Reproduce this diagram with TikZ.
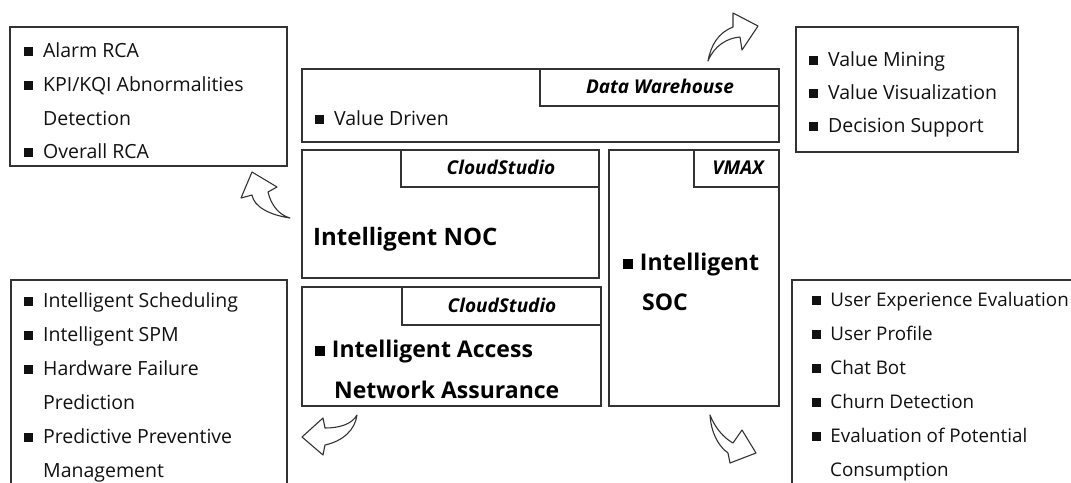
\documentclass[tikz,border=0pt]{standalone}
\usepackage{fontspec}
\setmainfont{Open Sans}
\begin{document}
\definecolor{ln}{HTML}{333333}
\definecolor{tx}{HTML}{111111}
\tikzset{
 box/.style={draw=ln, line width=1.3pt, fill=white, anchor=north west, inner sep=0pt, outer sep=0pt},
 txt/.style={anchor=base west, inner sep=0pt, text=tx, font=\fontsize{19.5}{19.5}\selectfont},
 stxt/.style={anchor=base west, inner sep=0pt, text=tx, font=\fontsize{18.8}{18.8}\selectfont},
 btxt/.style={anchor=base west, inner sep=0pt, text=black, font=\fontsize{23}{23}\selectfont\bfseries},
 tabtxt/.style={anchor=base, inner sep=0pt, text=black, font=\fontsize{19}{19}\selectfont\bfseries\itshape},
 carrow/.style={draw=ln, line width=1.1pt, fill=white, line join=round},
}
\newcommand{\bsq}{\rule[0.06em]{0.47em}{0.47em}\hspace{0.5em}}
\newcommand{\bbsq}{\rule[0.04em]{0.43em}{0.43em}\hspace{0.3em}}
\begin{tikzpicture}[x=1pt,y=-1pt]
\useasboundingbox (0,0) rectangle (1071,482);
\clip (0,0) rectangle (1071,482);
% boxes
\node[box, minimum width=277pt, minimum height=139pt] (rca) at (10,27) {};
\node[box, minimum width=477pt, minimum height=73pt] (dw) at (302,69) {};
\node[box, minimum width=239pt, minimum height=37pt] (dwt) at (540,69) {};
\node[box, minimum width=222pt, minimum height=125pt] (vm) at (796,27) {};
\node[box, minimum width=297pt, minimum height=128pt] (noc) at (302,150) {};
\node[box, minimum width=198pt, minimum height=37pt] (noct) at (401,150) {};
\node[box, minimum width=170pt, minimum height=256pt] (soc) at (609,150) {};
\node[box, minimum width=85pt, minimum height=37pt] (soct) at (694,150) {};
\node[box, minimum width=299pt, minimum height=119pt] (ana) at (302,287) {};
\node[box, minimum width=199pt, minimum height=38pt] (anat) at (402,287) {};
\node[box, minimum width=276pt, minimum height=220pt] (sch) at (11,280) {};
\node[box, minimum width=298pt, minimum height=220pt] (uxe) at (792,280) {};
% tab labels
\node[tabtxt] (dwl) at (660,93) {Data Warehouse};
\node[tabtxt] (nocl) at (501,174) {CloudStudio};
\node[tabtxt] (socl) at (738,174) {VMAX};
\node[tabtxt] (anal) at (502,312) {CloudStudio};
% top-left list
\node[txt] (r1) at (24,57) {\bsq Alarm RCA};
\node[txt] (r2) at (24,91) {\bsq KPI/KQI Abnormalities};
\node[txt] (r3) at (43,125) {Detection};
\node[txt] (r4) at (24,158) {\bsq Overall RCA};
% data warehouse
\node[txt] (dv) at (315,125) {\bsq Value Driven};
% top-right list
\node[txt] (v1) at (809,66) {\bsq Value Mining};
\node[txt] (v2) at (809,99) {\bsq Value Visualization};
\node[txt] (v3) at (809,132) {\bsq Decision Support};
% NOC
\node[btxt, font=\fontsize{24}{24}\selectfont\bfseries] (nocx) at (313,245) {Intelligent NOC};
% SOC
\node[btxt] (soc1) at (623,270) {\bbsq Intelligent};
\node[btxt] (soc2) at (642,310) {SOC};
% access network
\node[btxt] (an1) at (315,357) {\bbsq Intelligent Access};
\node[btxt] (an2) at (334,398) {Network Assurance};
% bottom-left list
\node[txt] (s1) at (24,307) {\bsq Intelligent Scheduling};
\node[txt] (s2) at (24,341) {\bsq Intelligent SPM};
\node[txt] (s3) at (24,375) {\bsq Hardware Failure};
\node[txt] (s4) at (43,409) {Prediction};
\node[txt] (s5) at (24,443) {\bsq Predictive Preventive};
\node[txt] (s6) at (43,477) {Management};
% bottom-right list
\node[stxt] (u1) at (812,306) {\bsq User Experience Evaluation};
\node[stxt] (u2) at (812,340) {\bsq User Profile};
\node[stxt] (u3) at (812,374) {\bsq Chat Bot};
\node[stxt] (u4) at (812,408) {\bsq Churn Detection};
\node[stxt] (u5) at (812,442) {\bsq Evaluation of Potential};
\node[stxt] (u6) at (830,476) {Consumption};
% curved block arrows
\draw[carrow] (708,61) .. controls (711,45) and (718,33) .. (733,27) -- (733,13) -- (758,26) -- (742,50) -- (740,37) .. controls (727,38) and (714,46) .. (708,61) -- cycle;
\draw[carrow] (290,218) .. controls (270,215) and (254,207) .. (252,195) -- (241,198) -- (252,172) -- (277,187) -- (268,192) .. controls (271,205) and (279,215) .. (290,218) -- cycle;
\draw[carrow] (357,415) .. controls (352,424) and (340,428) .. (325,428) -- (323,418) -- (302,437) -- (323,455) -- (325,445) .. controls (343,441) and (355,430) .. (357,415) -- cycle;
\draw[carrow] (710,415) .. controls (715,428) and (724,438) .. (733,443) -- (742,430) -- (756,453) -- (730,463) -- (728,453) .. controls (718,446) and (711,432) .. (710,415) -- cycle;
\end{tikzpicture}
\end{document}
